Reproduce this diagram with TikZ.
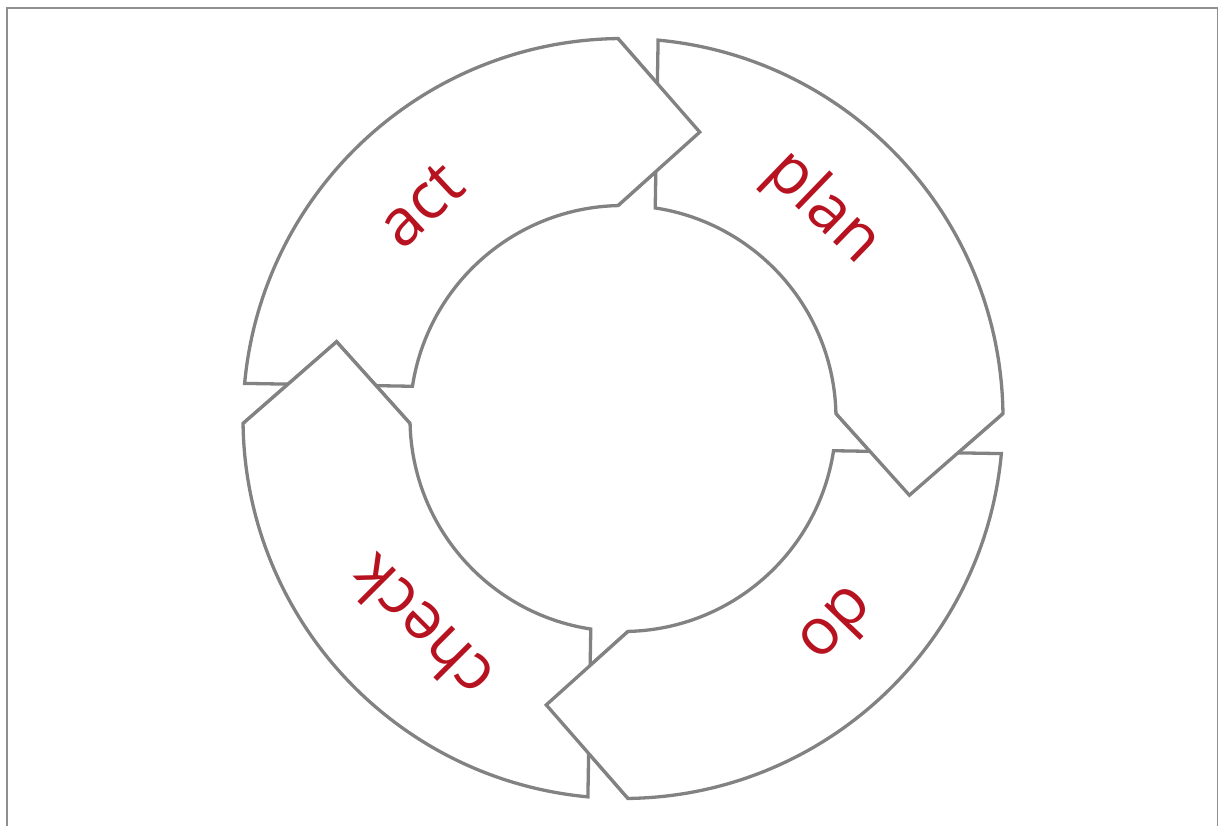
\documentclass[tikz,border=0pt]{standalone}
\usepackage{fontspec}
\setmainfont{Open Sans}
\usepackage{xcolor}
\usepackage{tikz}
\usetikzlibrary{positioning}
\definecolor{ringgray}{RGB}{130,130,130}
\definecolor{cyclered}{RGB}{183,18,32}
\tikzset{
  ringline/.style={draw=ringgray,line width=0.33mm,line join=miter},
  steplabel/.style={text=cyclered,font=\fontsize{18.5}{22}\selectfont,inner sep=0pt}
}
\begin{document}
\begin{tikzpicture}[x=0.1mm,y=0.1mm]
  \useasboundingbox (-623,-406.5) rectangle (595,418.5);
  \draw[ringgray!90,line width=0.2mm] (-616,410) rectangle (594.8,-440);
  % ring segments, act first, then clockwise
  \foreach \k in {0,...,3}
    \draw[ringline,fill=white,rotate=-90*\k] (171.3:213) arc[start angle=171.3,end angle=91.35,radius=213]
      -- (75:296.5) -- (90.75:380) arc[start angle=90.75,end angle=174.7,radius=380] -- cycle;
  % heads lie over the next tail
  \foreach \k in {0,...,3} {
    \fill[white,rotate=-90*\k] (91.35:213) -- (75:296.5) -- (90.75:380) -- cycle;
    \draw[ringline,rotate=-90*\k] (91.35:213) -- (75:296.5) -- (90.75:380);
  }
  \node[steplabel,rotate=43] (act) at (133.5:294) {act};
  \node[steplabel,rotate=-44] (plan) at (46.5:290) {plan};
  \node[steplabel,rotate=-134] (do) at (-44:300) {do};
  \node[steplabel,rotate=135] (check) at (226:292) {check};
\end{tikzpicture}
\end{document}
